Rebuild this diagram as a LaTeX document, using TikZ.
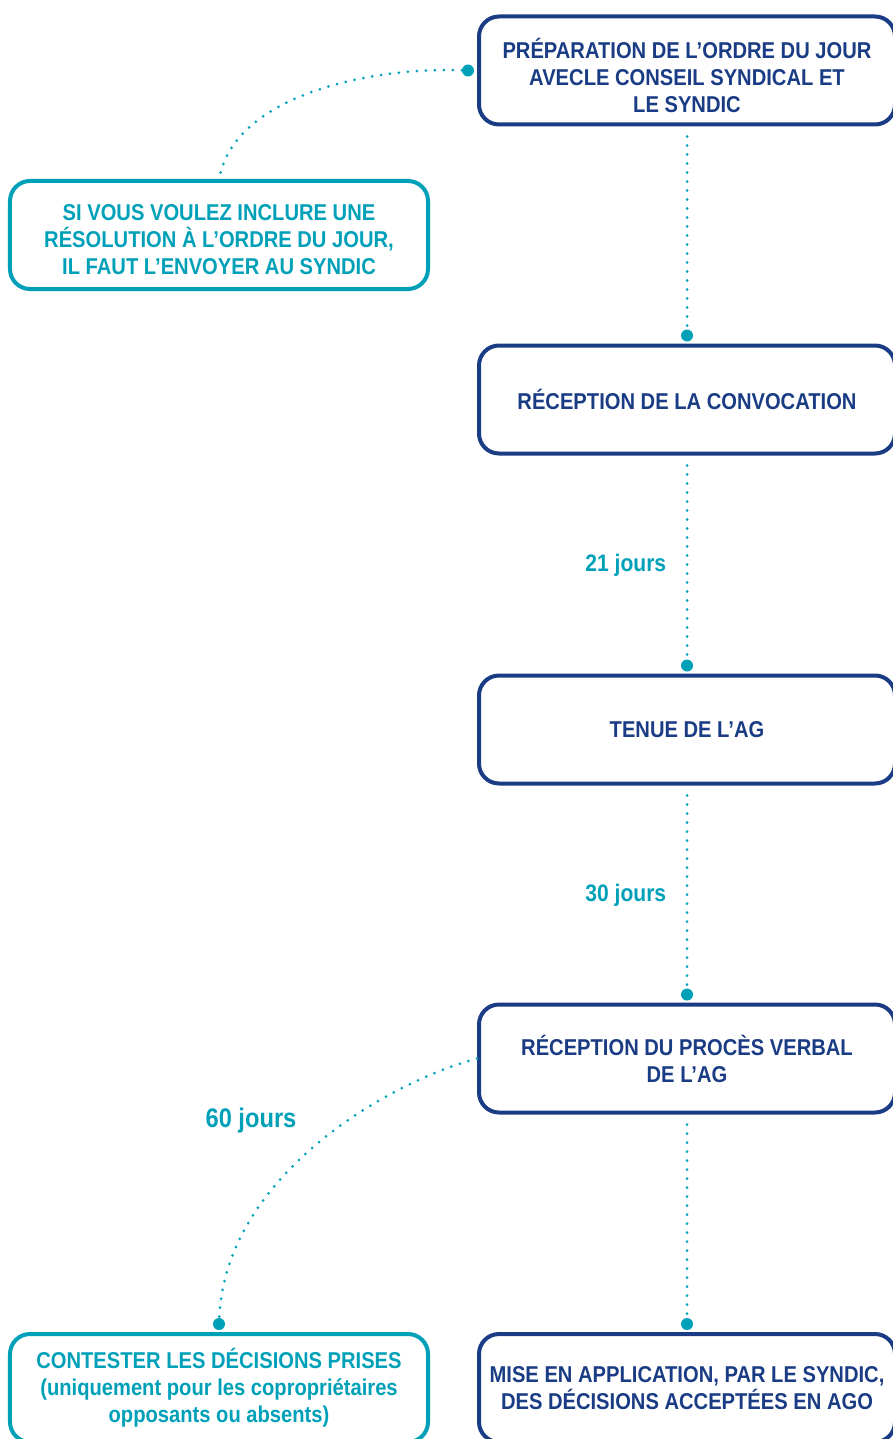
\documentclass[tikz,border=0pt]{standalone}
\usepackage{fontspec}
\setmainfont{Liberation Sans}[FakeStretch=0.88]
\definecolor{navy}{RGB}{26,60,132}
\definecolor{lagoon}{RGB}{0,161,184}

\tikzset{
  stepbox/.style={draw=navy, line width=4bp, rounded corners=20bp,
    minimum width=416bp, minimum height=108bp, inner sep=0pt,
    align=center, text=navy, font=\bfseries\fontsize{23}{27}\selectfont},
  notebox/.style={stepbox, draw=lagoon, text=lagoon, minimum width=418bp},
  link/.style={draw=lagoon, line width=3bp, line cap=round,
    dash pattern=on 0bp off 9bp},
  dot/.style={circle, fill=lagoon, inner sep=0pt, minimum size=12bp},
  delay/.style={text=lagoon, font=\bfseries\fontsize{24}{28}\selectfont},
}

\begin{document}
\begin{tikzpicture}[x=1bp, y=-1bp]
  % page frame
  \useasboundingbox (0,0) rectangle (892,1439);

  % main steps on the right
  \node[stepbox] (prep) at (687,70.5) {\rule{0pt}{30bp}PRÉPARATION DE L’ORDRE DU JOUR\\AVECLE CONSEIL SYNDICAL ET\\LE SYNDIC};
  \node[stepbox] (conv) at (687,399.5) {RÉCEPTION DE LA CONVOCATION};
  \node[stepbox] (tenue) at (687,729.5) {TENUE DE L’AG};
  \node[stepbox] (pv) at (687,1058.5) {RÉCEPTION DU PROCÈS VERBAL\\DE L’AG};
  \node[stepbox] (mise) at (687,1388) {MISE EN APPLICATION, PAR LE SYNDIC,\\DES DÉCISIONS ACCEPTÉES EN AGO};

  % side notes on the left
  \node[notebox] (resol) at (219,235) {\rule{0pt}{25bp}SI VOUS VOULEZ INCLURE UNE\\RÉSOLUTION À L’ORDRE DU JOUR,\\IL FAUT L’ENVOYER AU SYNDIC};
  \node[notebox] (contest) at (219,1388) {CONTESTER LES DÉCISIONS PRISES\\(uniquement pour les copropriétaires\\opposants ou absents)};

  % end dots
  \node[dot] (d0) at ([xshift=-9bp]prep.west) {};
  \node[dot] (d1) at ([yshift=8bp]conv.north) {};
  \node[dot] (d2) at ([yshift=8bp]tenue.north) {};
  \node[dot] (d3) at ([yshift=8bp]pv.north) {};
  \node[dot] (d4) at ([yshift=8bp]mise.north) {};
  \node[dot] (d5) at ([yshift=8bp]contest.north) {};

  % dotted links
  \draw[link, shorten <=10bp] (prep.south) -- (d1);
  \draw[link, shorten <=10bp] (conv.south) -- node[delay, pos=0.54, left=16bp] {21 jours} (d2);
  \draw[link, shorten <=10bp] (tenue.south) -- node[delay, pos=0.54, left=16bp] {30 jours} (d3);
  \draw[link, shorten <=10bp] (pv.south) -- (d4);
  \draw[link, shorten >=6bp] (d0) .. controls (370,67) and (240,95) .. (resol.north);
  \draw[link] (pv.west) .. controls (380,1085) and (225,1180) .. (d5);

  \node[delay, font=\bfseries\fontsize{27}{31}\selectfont] (sixty) at (251,1121) {60 jours};
\end{tikzpicture}
\end{document}
